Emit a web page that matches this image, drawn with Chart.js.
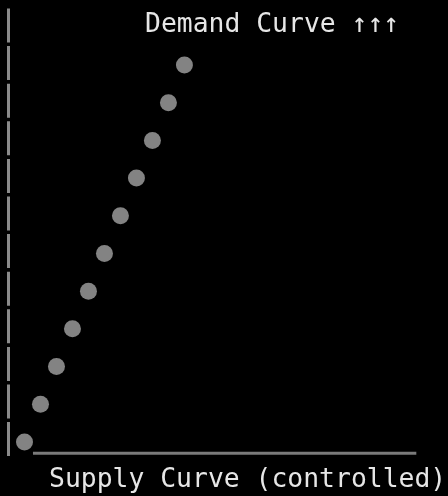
<!DOCTYPE html>
<html>
<head>
<meta charset="utf-8">
<script src="https://cdn.jsdelivr.net/npm/chart.js@4"></script>
<style>
  body { margin: 0; background: #000; }
  #wrap { width: 448px; height: 496px; }
</style>
</head>
<body>
<div id="wrap"><canvas id="curves"></canvas></div>
<script>
const demandX = [1, 2, 3, 4, 5, 6, 7, 8, 9, 10, 11]
const demandY = [1, 2, 3, 4, 5, 6, 7, 8, 9, 10, 11]
const supplyX = [1.53, 25.5]
const supplyY = [0.7, 0.7]
const axisX = [0, 0]
const axisY = [12.5, 0.6]
const topLabel = 'Demand Curve ↑↑↑'
const bottomLabel = 'Supply Curve (controlled)'

const demandPoints = demandX.map((x, i) => ({ x: x, y: demandY[i] }))
const supplyPoints = supplyX.map((x, i) => ({ x: x, y: supplyY[i] }))
const axisPoints = axisX.map((x, i) => ({ x: x, y: axisY[i] }))

// both captions are written after the chart is drawn
const captions = {
    id: 'captions',
    afterDraw(chart) {
        const ctx = chart.ctx
        ctx.save()
        ctx.font = '26.4px "DejaVu Sans Mono"'
        ctx.fillStyle = '#e6e6e6'
        ctx.textAlign = 'left'
        ctx.textBaseline = 'alphabetic'
        ctx.fillText(topLabel, 145, 32)
        ctx.fillText(bottomLabel, 49, 487)
        ctx.restore()
    }
}

const data = {
    datasets: [{
        label: 'Demand',
        data: demandPoints,
        pointRadius: 8.5,
        pointBackgroundColor: '#838383',
        pointBorderColor: '#838383',
        pointBorderWidth: 0,
        showLine: false
    }, {
        label: 'Supply',
        data: supplyPoints,
        showLine: true,
        borderColor: '#7a7a7a',
        borderWidth: 3,
        pointRadius: 0,
        fill: false
    }, {
        // dashed vertical axis on the left
        label: 'Axis',
        data: axisPoints,
        showLine: true,
        borderColor: '#8a8a8a',
        borderWidth: 3,
        borderDash: [34, 3.6],
        pointRadius: 0,
        fill: false,
        clip: false
    }]
}

const config = {
    type: 'scatter',
    data: data,
    plugins: [captions],
    options: {
        responsive: true,
        maintainAspectRatio: false,
        animation: false,
        layout: { padding: { left: 8, right: 3, top: 6, bottom: 39 } },
        plugins: {
            legend: { display: false },
            tooltip: { enabled: false }
        },
        scales: {
            x: {
                type: 'linear',
                display: false,
                min: 0,
                max: 26.95
            },
            y: {
                type: 'linear',
                display: false,
                min: 0.6,
                max: 12.5
            }
        }
    }
}

new Chart(document.getElementById('curves'), config)
</script>
</body>
</html>
